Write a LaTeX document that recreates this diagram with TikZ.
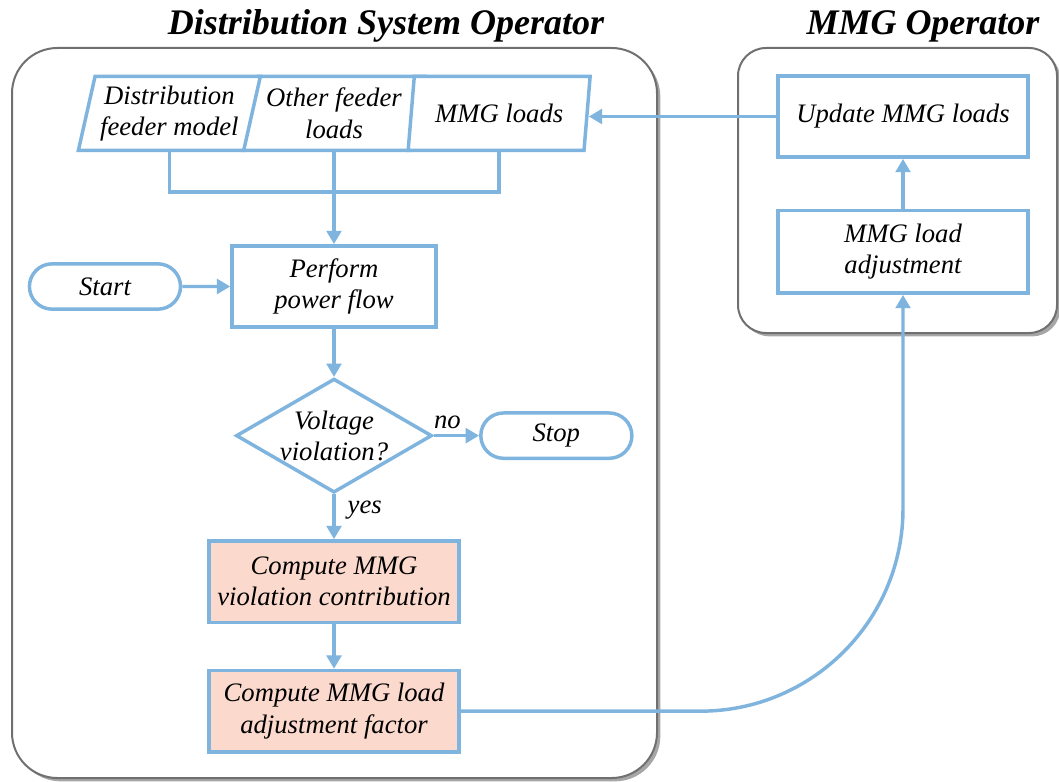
\documentclass[tikz,border=0pt]{standalone}
\usepackage{fontspec}
\setmainfont{Liberation Serif}
\usepackage{tikz}
\usetikzlibrary{shapes.geometric,shapes.misc,arrows.meta,positioning,shadows,backgrounds}
\definecolor{flowblue}{RGB}{127, 180, 222}
\definecolor{salmon}{RGB}{252, 217, 205}
\definecolor{panelgray}{RGB}{112, 112, 112}
\newcommand{\flowfont}{\itshape\fontsize{20}{23.5}\selectfont}
\tikzstyle{proc} = [rectangle, draw=flowblue, line width=2.6pt, fill=white, text=black, align=center, font=\flowfont, inner sep=2pt, minimum width=187.5pt, minimum height=61pt]
\tikzstyle{hot} = [proc, fill=salmon]
\tikzstyle{io} = [trapezium, trapezium left angle=74, trapezium right angle=106, trapezium stretches body, draw=flowblue, line width=2.6pt, fill=white, align=center, font=\flowfont, inner sep=1pt, minimum width=136.5pt, minimum height=55.5pt]
\tikzstyle{term} = [rounded rectangle, draw=flowblue, line width=2.6pt, fill=white, font=\flowfont, minimum width=120pt, minimum height=34pt]
\tikzstyle{dec} = [diamond, draw=flowblue, line width=2.6pt, fill=white, align=center, font=\flowfont, shape aspect=1.72, inner sep=0pt, minimum width=147pt, minimum height=85.5pt]
\tikzstyle{textonly} = [draw=none, fill=none, font=\flowfont, inner sep=2pt]
\tikzstyle{heading} = [draw=none, fill=none, font=\bfseries\itshape\fontsize{27}{30}\selectfont]
\tikzstyle{panel} = [draw=panelgray, line width=1.5pt, fill=white, drop shadow={shadow xshift=2.5pt, shadow yshift=-2.5pt, fill=black, opacity=0.35}]
\tikzstyle{wire} = [draw=flowblue, line width=2.6pt]
\tikzstyle{tedge} = [wire, -{Triangle[length=10pt, width=11pt]}]

\begin{document}
\begin{tikzpicture}[x=0.75pt, y=-0.75pt]
\useasboundingbox (0,0) rectangle (1059,781);

% operators ==============================

\node[heading, anchor=base] (dsotitle) at (386,35) {Distribution System Operator};
\node[heading, anchor=base] (mmgtitle) at (923,35) {MMG Operator};

% nodes
\node[proc, minimum width=153pt] (flow) at (334,286.5) {Perform\\power flow};
\node[term, left=36pt of flow] (start) {Start};
\node[io, above=69pt of flow] (feeders) {Other feeder\\loads};
\node[io, left=-3.75pt of feeders] (model) {Distribution\\feeder model};
\node[io, right=-7.25pt of feeders] (loads) {MMG loads};
\coordinate[above=39pt of flow] (bus);
\node[dec, below=36pt of flow] (viol) {Voltage\\violation?};
\node[term, right=34pt of viol] (stop) {Stop};
\node[hot, below=33.6pt of viol] (contrib) {Compute MMG\\violation contribution};
\node[hot, below=33.6pt of contrib] (factor) {Compute MMG load\\adjustment factor};
\node[proc] (update) at (903,116.5) {Update MMG loads};
\node[proc, below=37.4pt of update, minimum height=62pt] (adjust) {MMG load\\adjustment};

% edges
\path[wire] (model.south) |- (bus);
\path[wire] (loads.south) |- (bus);
\path[wire] (feeders.south) -- (bus);
\path[tedge] (bus) -- (flow);
\path[tedge] (start) -- (start -| flow.west);
\path[tedge] (flow) -- (viol);
\path[tedge] (viol) -- node[textonly, above=2pt, pos=0.3] {no} (stop);
\path[tedge] (viol) -- node[textonly, right=7pt, pos=0.35] {yes} (contrib);
\path[tedge] (contrib) -- (factor);
\path[tedge, rounded corners=152pt] (factor) -| (adjust);
\path[tedge] (adjust) -- (update);
\path[tedge] (update) -- (update -| loads.east);

% operator frames
\begin{scope}[on background layer]
\draw[panel, rounded corners=34pt] (12,48) rectangle (657,778);
\draw[panel, rounded corners=21pt] (738,48) rectangle (1057,333);
\end{scope}

\end{tikzpicture}
\end{document}
